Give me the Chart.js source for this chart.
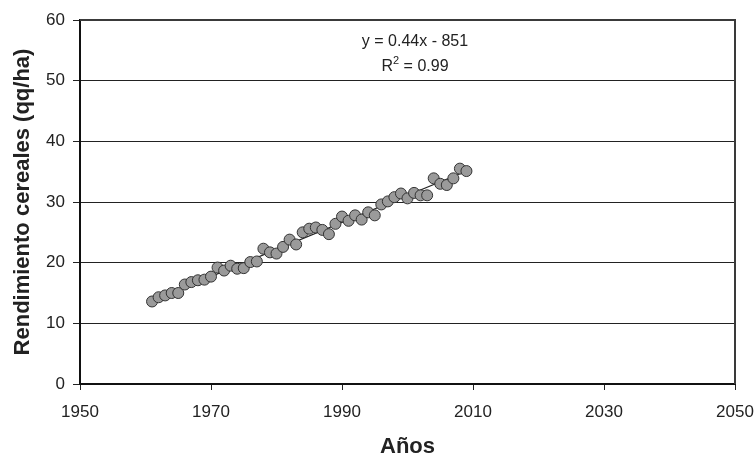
<!DOCTYPE html>
<html>
<head>
<meta charset="utf-8">
<script src="https://cdn.jsdelivr.net/npm/chart.js@4.4.1/dist/chart.umd.min.js"></script>
<style>
  html, body { margin: 0; padding: 0; background: #ffffff; }
  #wrap { width: 756px; height: 458px; }
</style>
</head>
<body>
<div id="wrap"><canvas id="c" width="756" height="458"></canvas></div>
<script>
// ---- data ----
const years = [1961,1962,1963,1964,1965,1966,1967,1968,1969,1970,
               1971,1972,1973,1974,1975,1976,1977,1978,1979,1980,
               1981,1982,1983,1984,1985,1986,1987,1988,1989,1990,
               1991,1992,1993,1994,1995,1996,1997,1998,1999,2000,
               2001,2002,2003,2004,2005,2006,2007,2008,2009];
const rendimiento = [13.6,14.3,14.6,15.0,15.0,16.4,16.8,17.1,17.2,17.7,
                     19.2,18.7,19.5,19.0,19.1,20.1,20.2,22.3,21.7,21.5,
                     22.6,23.8,23.0,25.0,25.6,25.8,25.4,24.7,26.4,27.6,
                     26.9,27.8,27.1,28.3,27.8,29.6,30.1,30.8,31.4,30.6,
                     31.5,31.1,31.1,33.9,33.0,32.8,33.9,35.5,35.1];
// trend line end points (as drawn in the reference)
const trendYears = [1961, 2009];
const trendValues = [13.7, 35.1];
const xTicks = [1950, 1970, 1990, 2010, 2030, 2050];
const yTicks = [0, 10, 20, 30, 40, 50, 60];
const equationText = 'y = 0.44x - 851';
const r2Parts = ['R', '2', ' = 0.99'];
const xTitle = 'Años';
const yTitle = 'Rendimiento cereales (qq/ha)';

const FONT = '"Liberation Sans", Arial, sans-serif';

const points = years.map((y, i) => ({x: y, y: rendimiento[i]}));
const trend = trendYears.map((y, i) => ({x: y, y: trendValues[i]}));

const frame = {
  id: 'frame',
  afterDatasetsDraw(chart) {
    const {ctx, chartArea: a} = chart;
    ctx.save();
    ctx.strokeStyle = '#3a3a3a';
    ctx.lineWidth = 2;
    ctx.beginPath();
    ctx.moveTo(a.left, a.top);
    ctx.lineTo(a.right, a.top);
    ctx.lineTo(a.right, a.bottom);
    ctx.stroke();
    ctx.restore();
  },
  afterDraw(chart) {
    const {ctx} = chart;
    ctx.save();
    ctx.fillStyle = '#222';
    ctx.font = '16px ' + FONT;
    ctx.textAlign = 'center';
    ctx.textBaseline = 'alphabetic';
    ctx.fillText(equationText, 415, 46);
    // R² line with real superscript
    const big = '16px ' + FONT, small = '11px ' + FONT;
    ctx.font = big;
    const w1 = ctx.measureText(r2Parts[0]).width;
    const w3 = ctx.measureText(r2Parts[2]).width;
    ctx.font = small;
    const w2 = ctx.measureText(r2Parts[1]).width;
    let x = 415 - (w1 + w2 + w3) / 2;
    ctx.textAlign = 'left';
    ctx.font = big;
    ctx.fillText(r2Parts[0], x, 71); x += w1;
    ctx.font = small;
    ctx.fillText(r2Parts[1], x, 64); x += w2;
    ctx.font = big;
    ctx.fillText(r2Parts[2], x, 71);
    ctx.restore();
  }
};

new Chart(document.getElementById('c'), {
  type: 'scatter',
  data: {
    datasets: [
      {
        label: 'Rendimiento',
        data: points,
        backgroundColor: '#9a9a9a',
        borderColor: '#333333',
        borderWidth: 1,
        pointRadius: 5.5,
        order: 1
      },
      {
        type: 'line',
        label: 'Tendencia',
        data: trend,
        borderColor: '#222222',
        borderWidth: 1.2,
        pointRadius: 0,
        fill: false,
        order: 2
      }
    ]
  },
  options: {
    responsive: false,
    animation: false,
    devicePixelRatio: 1,
    layout: { padding: { top: 20, right: 0, bottom: 0, left: 0 } },
    plugins: { legend: { display: false }, tooltip: { enabled: false } },
    scales: {
      x: {
        type: 'linear',
        min: 1950, max: 2050,
        afterBuildTicks: s => { s.ticks = xTicks.map(v => ({value: v})); },
        afterFit: s => { s.height = 74; s.paddingLeft = 19; s.paddingRight = 21; },
        ticks: { color: '#222', font: { family: FONT, size: 17 }, padding: 12, maxRotation: 0,
                 callback: v => String(v) },
        grid: { drawOnChartArea: false, drawTicks: true, tickLength: 6, color: '#222', lineWidth: 1 },
        border: { color: '#111', width: 2 },
        title: { display: true, text: xTitle, color: '#222',
                 font: { family: FONT, size: 22, weight: 'bold', lineHeight: 1 },
                 padding: { top: 0, bottom: 0 } }
      },
      y: {
        min: 0, max: 60,
        afterBuildTicks: s => { s.ticks = yTicks.map(v => ({value: v})); },
        afterFit: s => { s.width = 80; },
        ticks: { color: '#222', font: { family: FONT, size: 17 }, padding: 8,
                 callback: v => String(v) },
        grid: { drawOnChartArea: true, drawTicks: true, tickLength: 7, color: '#222', lineWidth: 1 },
        border: { color: '#111', width: 2 },
        title: { display: true, text: yTitle, color: '#222',
                 font: { family: FONT, size: 22, weight: 'bold', lineHeight: 1.2 },
                 padding: { top: 10, bottom: 0 } }
      }
    }
  },
  plugins: [frame]
});
</script>
</body>
</html>
